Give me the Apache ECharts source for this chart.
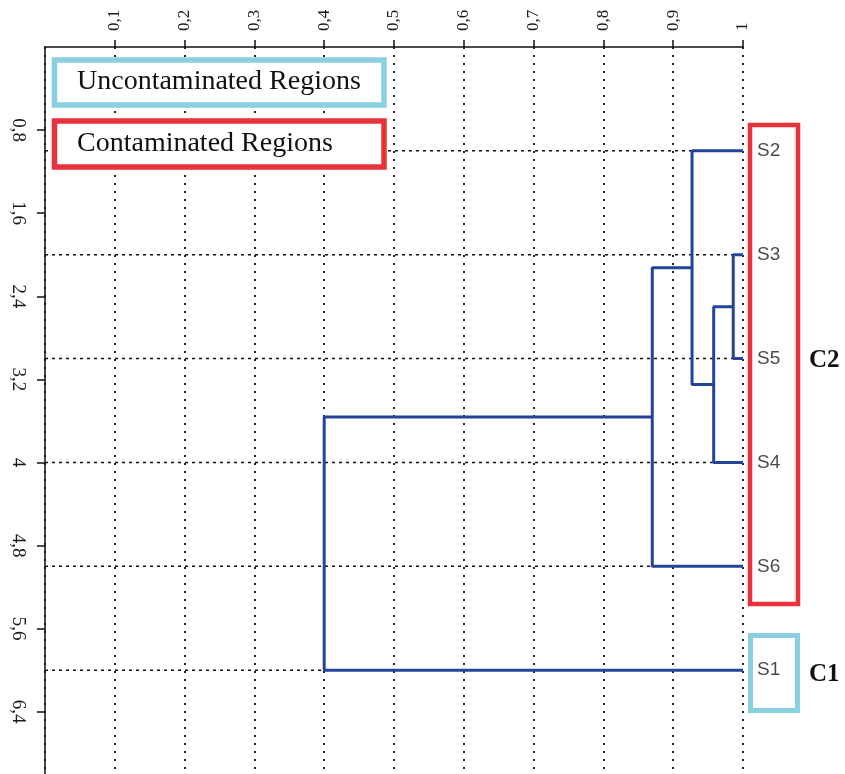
<!DOCTYPE html>
<html>
<head>
<meta charset="utf-8">
<script src="https://cdn.jsdelivr.net/npm/echarts@6/dist/echarts.min.js"></script>
<style>
html,body{margin:0;padding:0;background:#fff;}
#main{width:845px;height:774px;}
</style>
</head>
<body>
<div id="main"></div>
<script>
// ---- data ----
const leafLabels = ['S2', 'S3', 'S5', 'S4', 'S6', 'S1'];
const leafPositions = [1, 2, 3, 4, 5, 6];
const leafHeight = 1;
// merges: [childA, childB] -> new node M1..M5
const mergePairs = [['S3', 'S5'], ['M1', 'S4'], ['S2', 'M2'], ['M3', 'S6'], ['M4', 'S1']];
const mergeHeights = [0.986, 0.958, 0.927, 0.870, 0.400];
const xTicks = [0.1, 0.2, 0.3, 0.4, 0.5, 0.6, 0.7, 0.8, 0.9, 1];
const yTicks = [0.8, 1.6, 2.4, 3.2, 4, 4.8, 5.6, 6.4];
const legendNames = ['Uncontaminated Regions', 'Contaminated Regions'];
const clusterNames = ['C2', 'C1'];

// ---- build dendrogram segments ----
const nodes = {};
leafLabels.forEach((n, i) => { nodes[n] = { y: leafPositions[i], h: leafHeight }; });
const branchSeries = [];
const lineColor = '#24449c';
mergePairs.forEach((pair, i) => {
  const a = nodes[pair[0]], b = nodes[pair[1]], h = mergeHeights[i];
  nodes['M' + (i + 1)] = { y: (a.y + b.y) / 2, h: h };
  branchSeries.push({
    type: 'line', silent: true, symbol: 'none', z: 5,
    lineStyle: { color: lineColor, width: 3 },
    data: [[a.h, a.y], [h, a.y], [h, b.y], [b.h, b.y]]
  });
});

const leafLineSeries = leafPositions.map(p => ({
  type: 'line', silent: true, symbol: 'none', z: 2,
  lineStyle: { color: '#111', width: 1.5, type: [3, 4] },
  data: [[0, p], [1, p]]
}));

const labelSeries = {
  type: 'scatter', symbolSize: 0, z: 6,
  data: leafLabels.map((n, i) => ({ name: n, value: [1, leafPositions[i]] })),
  label: {
    show: true, position: 'right', distance: 14,
    formatter: p => p.name,
    fontFamily: 'Liberation Sans', fontSize: 19, color: '#1a1a1a'
  }
};

const isTick = (list, v) => list.some(t => Math.abs(t - v) < 1e-6);
const fmt = v => String(Math.round(v * 10) / 10).replace('.', ',');

const chart = echarts.init(document.getElementById('main'), null, { renderer: 'canvas' });
chart.setOption({
  animation: false,
  backgroundColor: '#fff',
  grid: { left: 45, right: 102, top: 47, bottom: 0, containLabel: false, outerBoundsMode: 'none' },
  xAxis: {
    type: 'value', position: 'top', min: 0, max: 1, interval: 0.1,
    axisLine: { show: true, onZero: false, lineStyle: { color: '#111', width: 1.5 } },
    axisTick: { show: true, length: 7, lineStyle: { color: '#111', width: 1.5 } },
    axisLabel: {
      show: true, rotate: -90, margin: 16, showMinLabel: false,
      fontFamily: 'Liberation Serif', fontSize: 17, color: '#1a1a1a',
      formatter: v => (isTick(xTicks, v) ? fmt(v) : '')
    },
    splitLine: { show: true, lineStyle: { color: '#111', width: 1.8, type: [2, 6] } }
  },
  yAxis: {
    type: 'value', min: 0, max: 7, interval: 0.8, inverse: true,
    axisLine: { show: true, onZero: false, lineStyle: { color: '#111', width: 1.5 } },
    axisTick: { show: true, length: 8, lineStyle: { color: '#111', width: 1.5 } },
    axisLabel: {
      show: true, rotate: -90, margin: 18, showMinLabel: false, showMaxLabel: false,
      fontFamily: 'Liberation Serif', fontSize: 19, color: '#1a1a1a',
      formatter: v => (isTick(yTicks, v) ? fmt(v) : '')
    },
    splitLine: { show: false }
  },
  series: [...leafLineSeries, ...branchSeries, labelSeries],
  graphic: [
    { type: 'rect', z: 100, shape: { x: 54.5, y: 60, width: 329.5, height: 45 },
      style: { fill: '#fff', stroke: '#8bd0e2', lineWidth: 5.5 } },
    { type: 'rect', z: 100, shape: { x: 54.5, y: 121, width: 329.5, height: 46 },
      style: { fill: '#fff', stroke: '#e8323b', lineWidth: 5.5 } },
    { type: 'text', z: 101, x: 77, y: 82,
      style: { text: legendNames[0], font: '28px "Liberation Serif"', fill: '#111', verticalAlign: 'middle' } },
    { type: 'text', z: 101, x: 77, y: 144,
      style: { text: legendNames[1], font: '28px "Liberation Serif"', fill: '#111', verticalAlign: 'middle' } },
    { type: 'rect', z: 100, shape: { x: 750, y: 125, width: 48, height: 479 },
      style: { fill: 'none', stroke: '#e8323b', lineWidth: 4.5 } },
    { type: 'rect', z: 100, shape: { x: 750.5, y: 635.5, width: 47, height: 75 },
      style: { fill: 'none', stroke: '#8bd0e2', lineWidth: 5 } },
    { type: 'text', z: 101, x: 809, y: 361,
      style: { text: clusterNames[0], font: 'bold 25px "Liberation Serif"', fill: '#111', verticalAlign: 'middle' } },
    { type: 'text', z: 101, x: 809, y: 675,
      style: { text: clusterNames[1], font: 'bold 25px "Liberation Serif"', fill: '#111', verticalAlign: 'middle' } }
  ]
});
</script>
</body>
</html>
